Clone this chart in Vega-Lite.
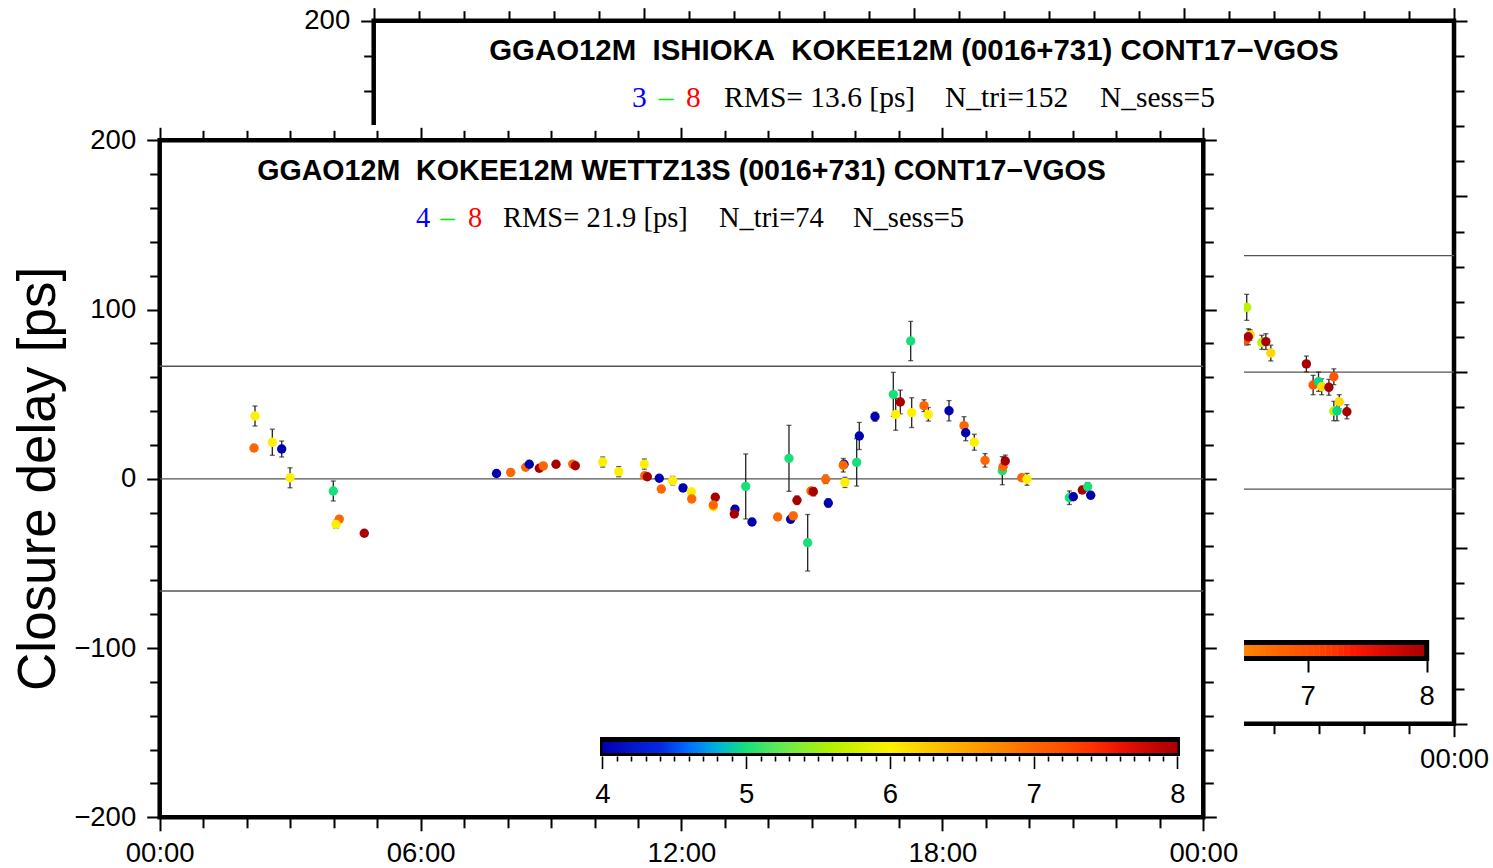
{
  "$schema": "https://vega.github.io/schema/vega-lite/v6.json",
  "width": 1493,
  "height": 868,
  "autosize": {"type": "none"},
  "padding": 0,
  "background": "white",
  "config": {
    "view": {"stroke": null},
    "axis": {"grid": false, "domain": false, "ticks": true, "tickColor": "black", "tickWidth": 2, "labelFont": "Liberation Sans", "labelFontSize": 27.5, "labelColor": "black", "labelOverlap": false, "labelFlush": false, "title": null},
    "text": {"font": "Liberation Sans", "color": "black"}
  },
  "datasets": {
    "front": [
      {"h":2.192,"v":37.1,"e":5.9,"s":6},{"h":2.169,"v":18.2,"e":1.8,"s":7},{"h":2.590,"v":21.6,"e":7.7,"s":6},{"h":2.806,"v":17.6,"e":4.7,"s":4},
      {"h":2.997,"v":0.6,"e":5.9,"s":6},{"h":3.992,"v":-7.2,"e":5.9,"s":5},{"h":4.130,"v":-23.8,"e":1.8,"s":7},{"h":4.053,"v":-26.9,"e":2.4,"s":6},
      {"h":4.705,"v":-32.2,"e":1.8,"s":8},{"h":7.746,"v":3.1,"e":1.2,"s":4},{"h":8.072,"v":3.8,"e":1.0,"s":7},{"h":8.417,"v":6.8,"e":1.0,"s":7},
      {"h":8.500,"v":8.6,"e":1.0,"s":4},{"h":8.730,"v":6.2,"e":1.5,"s":8},{"h":8.822,"v":7.6,"e":1.0,"s":7},{"h":9.114,"v":8.6,"e":1.0,"s":8},
      {"h":9.498,"v":8.7,"e":1.0,"s":7},{"h":9.558,"v":7.7,"e":1.0,"s":8},{"h":10.188,"v":9.9,"e":3.0,"s":6},{"h":10.556,"v":4.2,"e":3.0,"s":6},
      {"h":11.145,"v":8.7,"e":3.0,"s":6},{"h":11.154,"v":1.8,"e":1.0,"s":7},{"h":11.214,"v":1.2,"e":1.0,"s":8},{"h":11.489,"v":0.3,"e":1.0,"s":4},
      {"h":11.798,"v":-1.1,"e":2.5,"s":6},{"h":11.536,"v":-6.0,"e":1.0,"s":7},{"h":12.035,"v":-5.4,"e":1.0,"s":4},{"h":12.226,"v":-7.6,"e":1.5,"s":6},
      {"h":12.235,"v":-11.9,"e":1.5,"s":7},{"h":12.777,"v":-10.9,"e":2.0,"s":8},{"h":12.731,"v":-16.5,"e":2.0,"s":6},{"h":12.731,"v":-15.5,"e":1.5,"s":7},
      {"h":13.230,"v":-18.0,"e":2.0,"s":4},{"h":13.214,"v":-20.8,"e":2.0,"s":8},{"h":13.477,"v":-4.5,"e":19.2,"s":5},{"h":13.621,"v":-25.5,"e":1.5,"s":4},
      {"h":14.212,"v":-22.6,"e":1.5,"s":7},{"h":14.472,"v":12.1,"e":19.5,"s":5},{"h":14.511,"v":-23.9,"e":2.0,"s":4},{"h":14.571,"v":-21.9,"e":2.0,"s":7},
      {"h":14.656,"v":-12.7,"e":2.5,"s":8},{"h":14.902,"v":-37.8,"e":16.7,"s":5},{"h":14.978,"v":-7.2,"e":2.0,"s":7},{"h":15.031,"v":-7.6,"e":2.5,"s":8},
      {"h":15.316,"v":-0.3,"e":2.5,"s":7},{"h":15.376,"v":-14.3,"e":2.5,"s":4},{"h":15.737,"v":8.6,"e":2.0,"s":4},{"h":15.721,"v":8.0,"e":4.0,"s":7},
      {"h":15.760,"v":-2.1,"e":3.0,"s":6},{"h":16.029,"v":9.7,"e":14.0,"s":5},{"h":16.089,"v":25.3,"e":8.0,"s":4},{"h":16.450,"v":36.7,"e":2.7,"s":4},
      {"h":16.871,"v":49.9,"e":13.0,"s":5},{"h":16.926,"v":38.1,"e":9.4,"s":6},{"h":17.032,"v":45.4,"e":7.0,"s":8},{"h":17.271,"v":81.4,"e":11.6,"s":5},
      {"h":17.294,"v":39.1,"e":8.8,"s":6},{"h":17.577,"v":43.2,"e":3.5,"s":7},{"h":17.676,"v":38.1,"e":4.0,"s":6},{"h":18.152,"v":40.2,"e":6.0,"s":4},
      {"h":18.497,"v":31.4,"e":5.3,"s":7},{"h":18.536,"v":27.2,"e":4.7,"s":4},{"h":18.734,"v":21.6,"e":4.7,"s":6},{"h":18.980,"v":10.9,"e":4.0,"s":7},
      {"h":19.378,"v":4.8,"e":8.3,"s":5},{"h":19.393,"v":7.1,"e":2.0,"s":7},{"h":19.446,"v":10.5,"e":3.5,"s":8},{"h":19.824,"v":0.6,"e":1.5,"s":7},
      {"h":19.946,"v":-0.3,"e":3.5,"s":6},{"h":20.919,"v":-11.2,"e":4.0,"s":5},{"h":21.011,"v":-10.6,"e":2.0,"s":4},{"h":21.218,"v":-6.6,"e":2.0,"s":8},
      {"h":21.342,"v":-4.7,"e":2.5,"s":5},{"h":21.411,"v":-9.7,"e":2.0,"s":4}
    ],
    "back": [
      {"h":19.395,"v":36.9,"e":7.4,"s":5.05},{"h":19.38,"v":18.3,"e":2.8,"s":6.95},{"h":19.47,"v":21.2,"e":3.0,"s":5.7},{"h":19.43,"v":20.2,"e":4.5,"s":8},
      {"h":19.73,"v":17.0,"e":4.0,"s":5.05},{"h":19.82,"v":17.4,"e":4.5,"s":8},{"h":19.93,"v":10.9,"e":4.5,"s":5.7},{"h":20.72,"v":4.7,"e":4.5,"s":8},
      {"h":20.87,"v":-7.3,"e":5.5,"s":6.95},{"h":20.99,"v":-5.4,"e":5.5,"s":4.2},{"h":21.06,"v":-8.3,"e":4.5,"s":5.7},{"h":21.22,"v":-8.6,"e":4.5,"s":8},
      {"h":21.33,"v":-2.6,"e":4.5,"s":6.95},{"h":21.45,"v":-16.8,"e":4.0,"s":5.7},{"h":21.33,"v":-22.1,"e":5.5,"s":5.05},{"h":21.40,"v":-22.1,"e":5.5,"s":4.2},
      {"h":21.62,"v":-22.5,"e":4.0,"s":8}
    ],
    "backcb": [
      {"c":6.425},{"c":6.475},{"c":6.525},{"c":6.575},{"c":6.625},{"c":6.675},{"c":6.725},{"c":6.775},{"c":6.825},{"c":6.875},{"c":6.925},{"c":6.975},
      {"c":7.025},{"c":7.075},{"c":7.125},{"c":7.175},{"c":7.225},{"c":7.275},{"c":7.325},{"c":7.375},{"c":7.425},{"c":7.475},{"c":7.525},{"c":7.575},
      {"c":7.625},{"c":7.675},{"c":7.725},{"c":7.775},{"c":7.825},{"c":7.875},{"c":7.925},{"c":7.975}
    ],
    "panel": [{"t0":0,"t1":24,"lo":-200,"hi":200}],
    "flevels": [{"level":66.5},{"level":0},{"level":-66.3}],
    "blevels": [{"level":66.3},{"level":0},{"level":-66.5}]
  },
  "layer": [
    {
      "data": {"name": "panel"},
      "mark": {"type": "rect", "filled": false, "color": "black", "strokeWidth": 4.5},
      "encoding": {
        "x": {"field": "t0", "type": "quantitative", "scale": {"domain": [-8.3021, 24.866], "nice": false, "zero": false},
              "axis": {"orient": "top", "offset": -20.7, "values": [0,1,2,3,4,5,6,7,8,9,10,11,12,13,14,15,16,17,18,19,20,21,22,23,24], "tickSize": {"condition": {"test": "datum.value % 6 === 0", "value": 13}, "value": 10}, "labels": false, "zindex": 0}},
        "x2": {"field": "t1"},
        "y": {"field": "lo", "type": "quantitative", "scale": {"domain": [-282.105, 211.778], "nice": false, "zero": false},
              "axis": {"orient": "left", "offset": -373.7, "values": [-200,-180,-160,-140,-120,-100,-80,-60,-40,-20,0,20,40,60,80,100,120,140,160,180,200], "tickSize": {"condition": {"test": "datum.value % 100 === 0", "value": 13}, "value": 10}, "labelPadding": 11, "labelExpr": "datum.value === 200 ? datum.label : ''", "zindex": 0}},
        "y2": {"field": "hi"}
      }
    },
    {
      "data": {"name": "blevels"},
      "mark": {"type": "rule", "color": "#555555", "strokeWidth": 1.3},
      "encoding": {
        "x": {"datum": 0, "type": "quantitative", "scale": {"domain": [-8.3021, 24.866], "nice": false, "zero": false},
              "axis": {"orient": "bottom", "offset": -144.3, "values": [0,1,2,3,4,5,6,7,8,9,10,11,12,13,14,15,16,17,18,19,20,21,22,23,24], "tickSize": {"condition": {"test": "datum.value % 6 === 0", "value": 13}, "value": 10}, "labelPadding": 9, "labelExpr": "datum.value === 24 ? '00:00' : ''", "zindex": 0}},
        "x2": {"datum": 24},
        "y": {"field": "level", "type": "quantitative", "scale": {"domain": [-282.105, 211.778], "nice": false, "zero": false},
              "axis": {"orient": "right", "offset": -39, "values": [-200,-180,-160,-140,-120,-100,-80,-60,-40,-20,0,20,40,60,80,100,120,140,160,180,200], "tickSize": {"condition": {"test": "datum.value % 100 === 0", "value": 13}, "value": 10}, "labels": false, "zindex": 0}}
      }
    },
    {
      "data": {"name": "back"},
      "mark": {"type": "errorbar", "ticks": true, "size": 5, "thickness": 1.3, "color": "#222222"},
      "encoding": {
        "x": {"field": "h", "type": "quantitative", "scale": {"domain": [-8.3021, 24.866], "nice": false, "zero": false}, "axis": null},
        "y": {"field": "v", "type": "quantitative", "scale": {"domain": [-282.105, 211.778], "nice": false, "zero": false}, "axis": null},
        "yError": {"field": "e"}
      }
    },
    {
      "data": {"name": "back"},
      "mark": {"type": "point", "filled": true, "size": 88, "opacity": 1},
      "encoding": {
        "x": {"field": "h", "type": "quantitative", "scale": {"domain": [-8.3021, 24.866], "nice": false, "zero": false}, "axis": null},
        "y": {"field": "v", "type": "quantitative", "scale": {"domain": [-282.105, 211.778], "nice": false, "zero": false}, "axis": null},
        "color": {"field": "s", "type": "quantitative", "scale": {"domain": [3,3.625,4.25,4.875,5.5,6.125,6.75,7.375,8], "range": ["#0000b0","#0030f0","#18e078","#a0f000","#fff000","#ffa800","#ff6600","#ff1800","#a80000"]}, "legend": null}
      }
    },
    {
      "data": {"name": "backcb"},
      "mark": {"type": "rule", "strokeWidth": 6.4},
      "encoding": {
        "x": {"field": "c", "type": "quantitative", "scale": {"domain": [-3.9891, 8.5571], "nice": false, "zero": false},
              "axis": {"orient": "bottom", "offset": -208, "values": [7,8], "tickSize": 12, "labelPadding": 10.5, "labelExpr": "format(datum.value, 'd')", "zindex": 0}},
        "y": {"datum": -154.65, "type": "quantitative", "scale": {"domain": [-282.105, 211.778], "nice": false, "zero": false}, "axis": null},
        "y2": {"datum": -162.05},
        "color": {"field": "c", "type": "quantitative", "scale": {"domain": [3,3.625,4.25,4.875,5.5,6.125,6.75,7.375,8], "range": ["#0000b0","#0030f0","#18e078","#a0f000","#fff000","#ffa800","#ff6600","#ff1800","#a80000"]}, "legend": null}
      }
    },
    {
      "data": {"values": [{"lo": 3, "hi": 8}]},
      "mark": {"type": "rect", "filled": false, "color": "black", "strokeWidth": 5},
      "encoding": {
        "x": {"field": "lo", "type": "quantitative", "scale": {"domain": [-3.9891, 8.5571], "nice": false, "zero": false}, "axis": null},
        "x2": {"field": "hi"},
        "y": {"datum": -153.8, "type": "quantitative", "scale": {"domain": [-282.105, 211.778], "nice": false, "zero": false}, "axis": null},
        "y2": {"datum": -162.9}
      }
    },
    {
      "data": {"values": [{"t": "GGAO12M\u00a0\u00a0ISHIOKA\u00a0\u00a0KOKEE12M (0016+731) CONT17\u2212VGOS"}]},
      "mark": {"type": "text", "align": "center", "baseline": "alphabetic", "fontSize": 29.4, "fontWeight": "bold"},
      "encoding": {
        "x": {"datum": 12, "type": "quantitative", "scale": {"domain": [-8.3021, 24.866], "nice": false, "zero": false}, "axis": null},
        "y": {"datum": 177.6, "type": "quantitative", "scale": {"domain": [-282.105, 211.778], "nice": false, "zero": false}, "axis": null},
        "text": {"field": "t"}
      }
    },
    {
      "data": {"values": [{"t": "3"}]},
      "mark": {"type": "text", "align": "left", "baseline": "alphabetic", "font": "Liberation Serif", "fontSize": 29.5, "color": "#0000ff"},
      "encoding": {
        "x": {"datum": 5.738, "type": "quantitative", "scale": {"domain": [-8.3021, 24.866], "nice": false, "zero": false}, "axis": null},
        "y": {"datum": 150.7, "type": "quantitative", "scale": {"domain": [-282.105, 211.778], "nice": false, "zero": false}, "axis": null},
        "text": {"field": "t"}
      }
    },
    {
      "data": {"values": [{"t": "\u2013"}]},
      "mark": {"type": "text", "align": "left", "baseline": "alphabetic", "font": "Liberation Serif", "fontSize": 29.5, "color": "#00ee00"},
      "encoding": {
        "x": {"datum": 6.33, "type": "quantitative", "scale": {"domain": [-8.3021, 24.866], "nice": false, "zero": false}, "axis": null},
        "y": {"datum": 150.7, "type": "quantitative", "scale": {"domain": [-282.105, 211.778], "nice": false, "zero": false}, "axis": null},
        "text": {"field": "t"}
      }
    },
    {
      "data": {"values": [{"t": "8"}]},
      "mark": {"type": "text", "align": "left", "baseline": "alphabetic", "font": "Liberation Serif", "fontSize": 29.5, "color": "#ff0000"},
      "encoding": {
        "x": {"datum": 6.938, "type": "quantitative", "scale": {"domain": [-8.3021, 24.866], "nice": false, "zero": false}, "axis": null},
        "y": {"datum": 150.7, "type": "quantitative", "scale": {"domain": [-282.105, 211.778], "nice": false, "zero": false}, "axis": null},
        "text": {"field": "t"}
      }
    },
    {
      "data": {"values": [{"t": "RMS= 13.6 [ps]"}]},
      "mark": {"type": "text", "align": "left", "baseline": "alphabetic", "font": "Liberation Serif", "fontSize": 29.5},
      "encoding": {
        "x": {"datum": 7.782, "type": "quantitative", "scale": {"domain": [-8.3021, 24.866], "nice": false, "zero": false}, "axis": null},
        "y": {"datum": 150.7, "type": "quantitative", "scale": {"domain": [-282.105, 211.778], "nice": false, "zero": false}, "axis": null},
        "text": {"field": "t"}
      }
    },
    {
      "data": {"values": [{"t": "N_tri=152"}]},
      "mark": {"type": "text", "align": "left", "baseline": "alphabetic", "font": "Liberation Serif", "fontSize": 29.5},
      "encoding": {
        "x": {"datum": 12.692, "type": "quantitative", "scale": {"domain": [-8.3021, 24.866], "nice": false, "zero": false}, "axis": null},
        "y": {"datum": 150.7, "type": "quantitative", "scale": {"domain": [-282.105, 211.778], "nice": false, "zero": false}, "axis": null},
        "text": {"field": "t"}
      }
    },
    {
      "data": {"values": [{"t": "N_sess=5"}]},
      "mark": {"type": "text", "align": "left", "baseline": "alphabetic", "font": "Liberation Serif", "fontSize": 29.5},
      "encoding": {
        "x": {"datum": 16.135, "type": "quantitative", "scale": {"domain": [-8.3021, 24.866], "nice": false, "zero": false}, "axis": null},
        "y": {"datum": 150.7, "type": "quantitative", "scale": {"domain": [-282.105, 211.778], "nice": false, "zero": false}, "axis": null},
        "text": {"field": "t"}
      }
    },
    {
      "data": {"values": [{"a": -10, "b": 24.936, "lo": -260, "hi": 209.04}]},
      "mark": {"type": "rect", "color": "white", "opacity": 1},
      "encoding": {
        "x": {"field": "a", "type": "quantitative", "scale": {"domain": [-3.6727, 30.6626], "nice": false, "zero": false}, "axis": null},
        "x2": {"field": "b"},
        "y": {"field": "lo", "type": "quantitative", "scale": {"domain": [-229.956, 282.895], "nice": false, "zero": false}, "axis": null},
        "y2": {"field": "hi"}
      }
    },
    {
      "data": {"name": "panel"},
      "mark": {"type": "rect", "filled": false, "color": "black", "strokeWidth": 4.5},
      "encoding": {
        "x": {"field": "t0", "type": "quantitative", "scale": {"domain": [-3.6727, 30.6626], "nice": false, "zero": false},
              "axis": {"orient": "bottom", "offset": -50.7, "values": [0,1,2,3,4,5,6,7,8,9,10,11,12,13,14,15,16,17,18,19,20,21,22,23,24], "tickSize": {"condition": {"test": "datum.value % 6 === 0", "value": 13.5}, "value": 10.5}, "labelPadding": 8.5, "labelExpr": "datum.value % 6 === 0 ? ((datum.value % 24 < 10) ? '0' : '') + (datum.value % 24) + ':00' : ''", "zindex": 1}},
        "x2": {"field": "t1"},
        "y": {"field": "lo", "type": "quantitative", "scale": {"domain": [-229.956, 282.895], "nice": false, "zero": false},
              "axis": {"orient": "left", "offset": -159.7, "values": [-200,-180,-160,-140,-120,-100,-80,-60,-40,-20,0,20,40,60,80,100,120,140,160,180,200], "tickSize": {"condition": {"test": "datum.value % 100 === 0", "value": 13}, "value": 10}, "labelPadding": 11, "labelExpr": "datum.value % 100 === 0 ? datum.label : ''", "zindex": 1}},
        "y2": {"field": "hi"}
      }
    },
    {
      "data": {"name": "flevels"},
      "mark": {"type": "rule", "color": "#555555", "strokeWidth": 1.3},
      "encoding": {
        "x": {"datum": 0, "type": "quantitative", "scale": {"domain": [-3.6727, 30.6626], "nice": false, "zero": false},
              "axis": {"orient": "top", "offset": -140.3, "values": [0,1,2,3,4,5,6,7,8,9,10,11,12,13,14,15,16,17,18,19,20,21,22,23,24], "tickSize": {"condition": {"test": "datum.value % 6 === 0", "value": 13}, "value": 10}, "labels": false, "zindex": 1}},
        "x2": {"datum": 24},
        "y": {"field": "level", "type": "quantitative", "scale": {"domain": [-229.956, 282.895], "nice": false, "zero": false},
              "axis": {"orient": "right", "offset": -289.7, "values": [-200,-180,-160,-140,-120,-100,-80,-60,-40,-20,0,20,40,60,80,100,120,140,160,180,200], "tickSize": {"condition": {"test": "datum.value % 100 === 0", "value": 13}, "value": 10}, "labels": false, "zindex": 1}}
      }
    },
    {
      "data": {"name": "front"},
      "mark": {"type": "errorbar", "ticks": true, "size": 5, "thickness": 1.3, "color": "#222222"},
      "encoding": {
        "x": {"field": "h", "type": "quantitative", "scale": {"domain": [-3.6727, 30.6626], "nice": false, "zero": false}, "axis": null},
        "y": {"field": "v", "type": "quantitative", "scale": {"domain": [-229.956, 282.895], "nice": false, "zero": false}, "axis": null},
        "yError": {"field": "e"}
      }
    },
    {
      "data": {"name": "front"},
      "mark": {"type": "point", "filled": true, "size": 88, "opacity": 1},
      "encoding": {
        "x": {"field": "h", "type": "quantitative", "scale": {"domain": [-3.6727, 30.6626], "nice": false, "zero": false}, "axis": null},
        "y": {"field": "v", "type": "quantitative", "scale": {"domain": [-229.956, 282.895], "nice": false, "zero": false}, "axis": null},
        "color": {"field": "s", "type": "quantitative", "scale": {"domain": [4,4.5,5,5.5,6,6.5,7,7.5,8], "range": ["#0000b0","#0030f0","#18e078","#a0f000","#fff000","#ffa800","#ff6600","#ff1800","#a80000"]},
                  "legend": {"orient": "none", "legendX": 602.5, "legendY": 742, "direction": "horizontal", "gradientLength": 575, "gradientThickness": 11, "gradientStrokeWidth": 0, "title": null, "labelExpr": "''", "labelOpacity": 0, "padding": 0}}
      }
    },
    {
      "data": {"values": [{"lo": 4, "hi": 8}]},
      "mark": {"type": "rect", "color": "black", "stroke": "black", "strokeWidth": 5, "opacity": 1},
      "encoding": {
        "x": {"field": "lo", "type": "quantitative", "scale": {"domain": [-0.1913, 10.1948], "nice": false, "zero": false},
              "axis": {"orient": "bottom", "offset": -112, "values": [4,4.1,4.2,4.3,4.4,4.5,4.6,4.7,4.8,4.9,5,5.1,5.2,5.3,5.4,5.5,5.6,5.7,5.8,5.9,6,6.1,6.2,6.3,6.4,6.5,6.6,6.7,6.8,6.9,7,7.1,7.2,7.3,7.4,7.5,7.6,7.7,7.8,7.9,8], "tickSize": {"condition": {"test": "datum.value % 1 === 0", "value": 12.5}, "value": 5}, "tickWidth": 1.6, "labelPadding": 11.5, "labelExpr": "datum.value % 1 === 0 ? format(datum.value, 'd') : ''", "zindex": 1}},
        "x2": {"field": "hi"},
        "y": {"datum": -154.03, "type": "quantitative", "scale": {"domain": [-229.956, 282.895], "nice": false, "zero": false}, "axis": null},
        "y2": {"datum": -162.3}
      }
    },
    {
      "data": {"values": [{"t": "GGAO12M\u00a0\u00a0KOKEE12M WETTZ13S (0016+731) CONT17\u2212VGOS"}]},
      "mark": {"type": "text", "align": "center", "baseline": "alphabetic", "fontSize": 28.6, "fontWeight": "bold"},
      "encoding": {
        "x": {"datum": 12, "type": "quantitative", "scale": {"domain": [-3.6727, 30.6626], "nice": false, "zero": false}, "axis": null},
        "y": {"datum": 176.8, "type": "quantitative", "scale": {"domain": [-229.956, 282.895], "nice": false, "zero": false}, "axis": null},
        "text": {"field": "t"}
      }
    },
    {
      "data": {"values": [{"t": "4"}]},
      "mark": {"type": "text", "align": "left", "baseline": "alphabetic", "font": "Liberation Serif", "fontSize": 28.5, "color": "#0000ff"},
      "encoding": {
        "x": {"datum": 5.894, "type": "quantitative", "scale": {"domain": [-3.6727, 30.6626], "nice": false, "zero": false}, "axis": null},
        "y": {"datum": 148.8, "type": "quantitative", "scale": {"domain": [-229.956, 282.895], "nice": false, "zero": false}, "axis": null},
        "text": {"field": "t"}
      }
    },
    {
      "data": {"values": [{"t": "\u2013"}]},
      "mark": {"type": "text", "align": "left", "baseline": "alphabetic", "font": "Liberation Serif", "fontSize": 28.5, "color": "#00ee00"},
      "encoding": {
        "x": {"datum": 6.46, "type": "quantitative", "scale": {"domain": [-3.6727, 30.6626], "nice": false, "zero": false}, "axis": null},
        "y": {"datum": 148.8, "type": "quantitative", "scale": {"domain": [-229.956, 282.895], "nice": false, "zero": false}, "axis": null},
        "text": {"field": "t"}
      }
    },
    {
      "data": {"values": [{"t": "8"}]},
      "mark": {"type": "text", "align": "left", "baseline": "alphabetic", "font": "Liberation Serif", "fontSize": 28.5, "color": "#ff0000"},
      "encoding": {
        "x": {"datum": 7.09, "type": "quantitative", "scale": {"domain": [-3.6727, 30.6626], "nice": false, "zero": false}, "axis": null},
        "y": {"datum": 148.8, "type": "quantitative", "scale": {"domain": [-229.956, 282.895], "nice": false, "zero": false}, "axis": null},
        "text": {"field": "t"}
      }
    },
    {
      "data": {"values": [{"t": "RMS= 21.9 [ps]"}]},
      "mark": {"type": "text", "align": "left", "baseline": "alphabetic", "font": "Liberation Serif", "fontSize": 28.5},
      "encoding": {
        "x": {"datum": 7.895, "type": "quantitative", "scale": {"domain": [-3.6727, 30.6626], "nice": false, "zero": false}, "axis": null},
        "y": {"datum": 148.8, "type": "quantitative", "scale": {"domain": [-229.956, 282.895], "nice": false, "zero": false}, "axis": null},
        "text": {"field": "t"}
      }
    },
    {
      "data": {"values": [{"t": "N_tri=74"}]},
      "mark": {"type": "text", "align": "left", "baseline": "alphabetic", "font": "Liberation Serif", "fontSize": 28.5},
      "encoding": {
        "x": {"datum": 12.862, "type": "quantitative", "scale": {"domain": [-3.6727, 30.6626], "nice": false, "zero": false}, "axis": null},
        "y": {"datum": 148.8, "type": "quantitative", "scale": {"domain": [-229.956, 282.895], "nice": false, "zero": false}, "axis": null},
        "text": {"field": "t"}
      }
    },
    {
      "data": {"values": [{"t": "N_sess=5"}]},
      "mark": {"type": "text", "align": "left", "baseline": "alphabetic", "font": "Liberation Serif", "fontSize": 28.5},
      "encoding": {
        "x": {"datum": 15.944, "type": "quantitative", "scale": {"domain": [-3.6727, 30.6626], "nice": false, "zero": false}, "axis": null},
        "y": {"datum": 148.8, "type": "quantitative", "scale": {"domain": [-229.956, 282.895], "nice": false, "zero": false}, "axis": null},
        "text": {"field": "t"}
      }
    },
    {
      "data": {"values": [{"t": "Closure delay [ps]"}]},
      "mark": {"type": "text", "align": "center", "baseline": "alphabetic", "angle": 270, "fontSize": 53},
      "encoding": {
        "x": {"datum": -2.408, "type": "quantitative", "scale": {"domain": [-3.6727, 30.6626], "nice": false, "zero": false}, "axis": null},
        "y": {"datum": 0, "type": "quantitative", "scale": {"domain": [-229.956, 282.895], "nice": false, "zero": false}, "axis": null},
        "text": {"field": "t"}
      }
    }
  ],
  "resolve": {
    "scale": {"x": "independent", "y": "independent", "color": "independent"},
    "axis": {"x": "independent", "y": "independent"},
    "legend": {"color": "independent"}
  }
}
